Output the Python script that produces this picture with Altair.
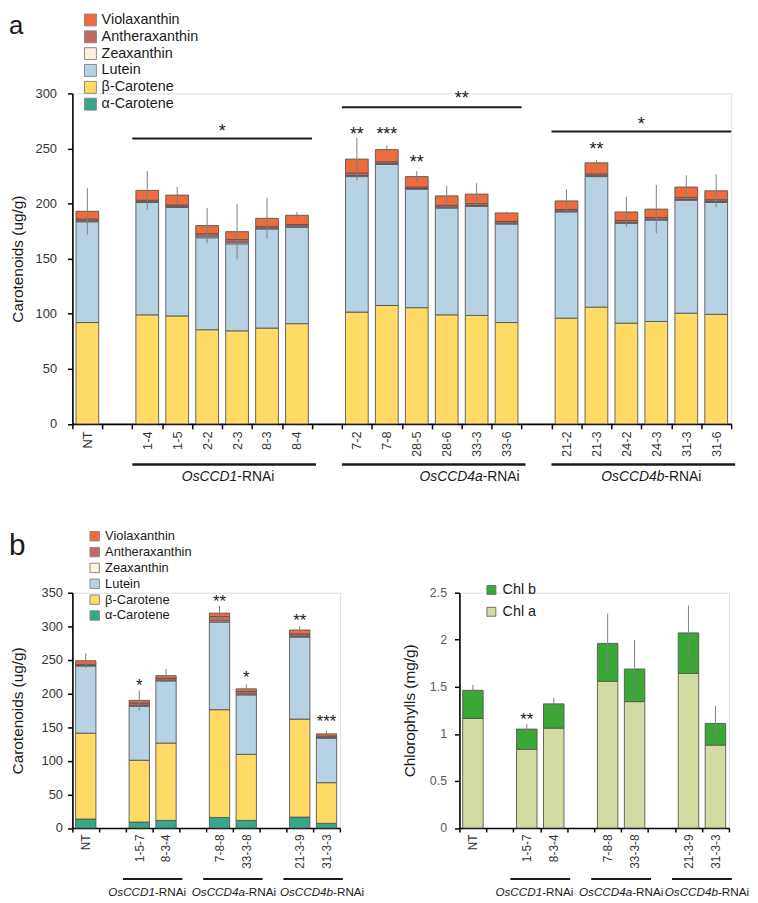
import altair as alt
import pandas as pd

FONT = "Liberation Sans"

# ---------------- panel a data ----------------
a_lines = ["NT", "1-4", "1-5", "2-2", "2-3", "8-3", "8-4", "7-2", "7-8", "28-5", "28-6",
           "33-3", "33-6", "21-2", "21-3", "24-2", "24-3", "31-3", "31-6"]
a_slots = ["NT", " ", "1-4", "1-5", "2-2", "2-3", "8-3", "8-4", "  ", "7-2", "7-8", "28-5",
           "28-6", "33-3", "33-6", "   ", "21-2", "21-3", "24-2", "24-3", "31-3", "31-6"]
a_beta = [92, 99, 98, 85.5, 84.5, 87, 91, 101.5, 107.5, 105.5, 99, 98.5, 92, 96, 106, 91.5, 93, 100.5, 99.5]
a_lutein = [91.5, 102, 98.5, 83.5, 79, 90, 87.5, 123, 128, 107.5, 97, 99, 89.5, 96.5, 118.5, 90.5, 92, 102.5, 101.5]
a_zea = [0.8, 0.7, 0.7, 1.5, 1.5, 0.7, 1.0, 1.0, 0.8, 0.7, 0.8, 0.8, 0.8, 0.7, 0.8, 0.9, 0.8, 0.8, 0.8]
a_anth = [1.7, 1.3, 1.5, 2.2, 2.3, 1.4, 1.5, 2.3, 1.7, 1.3, 1.6, 1.7, 1.5, 1.4, 1.7, 1.8, 1.6, 1.8, 1.7]
a_viola = [7, 9, 9, 7.3, 7.2, 7.5, 8.4, 12.6, 11, 9.5, 8.6, 8.6, 7.7, 7.8, 10, 7.7, 7.6, 9.4, 8.1]
a_err = [21, 17.5, 7.5, 16, 25, 18.5, 3, 19.5, 4, 5, 9, 10, 1.2, 10.5, 2.5, 13.7, 22, 10.7, 14.7]
a_star_lines = ["7-2", "7-8", "28-5", "21-3"]
a_star_text = ["**", "***", "**", "**"]
a_star_y = [257.5, 257.5, 232, 244]
a_grp_start = ["1-4", "7-2", "21-2"]
a_grp_end = ["8-4", "33-6", "31-6"]
a_grp_mid = ["2-3", "33-3", "24-3"]
a_grp_line_y = [259, 287.5, 265.5]
a_grp_star = ["*", "**", "*"]
a_grp_star_y = [260.5, 290.5, 267]
grp_italic = ["OsCCD1", "OsCCD4a", "OsCCD4b"]
grp_normal = "-RNAi"

# ---------------- panel b data ----------------
b_lines = ["NT", "1-5-7", "8-3-4", "7-8-8", "33-3-8", "21-3-9", "31-3-3"]
b_slots = ["NT", " ", "1-5-7", "8-3-4", "  ", "7-8-8", "33-3-8", "   ", "21-3-9", "31-3-3"]
b_alpha = [13.3, 8.8, 11.3, 15.7, 11.3, 16.2, 7]
b_beta = [127.7, 92, 115.1, 160.3, 98.3, 145.8, 60.4]
b_lutein = [100, 80.2, 92.4, 130.3, 88.4, 122, 66.3]
b_zea = [1.0, 1.5, 1.2, 1.8, 1.5, 1.2, 0.8]
b_anth = [1.4, 3.5, 2.7, 6.5, 3.5, 3.4, 2.2]
b_viola = [5.4, 3.8, 3.9, 5, 4, 5.9, 3.3]
b_err = [11, 15, 10, 11, 7, 5.7, 4.7]
b_star_lines = ["1-5-7", "7-8-8", "33-3-8", "21-3-9", "31-3-3"]
b_star_text = ["*", "**", "*", "**", "***"]
b_star_y = [203.5, 328.8, 216.3, 300.8, 150]
b_grp_start = ["1-5-7", "7-8-8", "21-3-9"]
b_grp_end = ["8-3-4", "33-3-8", "31-3-3"]
b_grp_mid = ["8-3-4", "33-3-8", "31-3-3"]

c_chla = [1.164, 0.836, 1.061, 1.559, 1.343, 1.643, 0.881]
c_chlb = [0.299, 0.215, 0.258, 0.402, 0.346, 0.43, 0.23]
c_err = [0.058, 0.055, 0.065, 0.317, 0.31, 0.29, 0.19]
c_star_lines = ["1-5-7"]
c_star_text = ["**"]
c_star_y = [1.096]

pig_names = ["Violaxanthin", "Antheraxanthin", "Zeaxanthin", "Lutein", "β-Carotene", "α-Carotene"]
pig_colors = ["#EE6B3B", "#C46767", "#FDF0DE", "#B7D3E3", "#FFDA65", "#35A78A"]
pig_stack = {"α-Carotene": 0, "β-Carotene": 1, "Lutein": 2, "Zeaxanthin": 3, "Antheraxanthin": 4, "Violaxanthin": 5}
chl_names = ["Chl b", "Chl a"]
chl_colors = ["#3BA737", "#D1DCA2"]
chl_stack = {"Chl a": 0, "Chl b": 1}


def long_df(lines, series, stack):
    rows = []
    for name, vals in series:
        for lab, v in zip(lines, vals):
            rows.append({"label": lab, "pigment": name, "value": v, "ord": stack[name]})
    return pd.DataFrame(rows)


def err_df(lines, parts, err):
    tot = [sum(p) for p in zip(*parts)]
    return pd.DataFrame({"label": lines, "lo": [t - e for t, e in zip(tot, err)],
                         "hi": [t + e for t, e in zip(tot, err)]})


CW = {"O": .778, "s": .5, "C": .722, "D": .722, "1": .556, "4": .556, "a": .556, "b": .556,
      "-": .333, "R": .722, "N": .722, "A": .667, "i": .222}


def tw(s, size):
    return sum(CW.get(ch, .556) for ch in s) * size


def make_panel(slots, width, height, ydom, yvals, ytitle, ytitle_x, yfmt, ylab_size, ylab_color,
               ylab_pad, xlab_size, xlab_pad, xtick):
    xscale = alt.Scale(domain=slots, paddingInner=0, paddingOuter=0)
    xaxis = alt.Axis(title=None, labelAngle=-90, labelFontSize=xlab_size, labelColor="#333333",
                     labelPadding=xlab_pad, tickBand="extent", tickSize=xtick, tickColor="#000000",
                     tickWidth=1.5, domainColor="#000000", domainWidth=1.6, labelFont=FONT)
    yscale = alt.Scale(domain=ydom, nice=False, zero=True)
    yaxis = alt.Axis(values=yvals, format=yfmt, title=ytitle, titleX=ytitle_x, titleY=height / 2,
                     titleAngle=270, titleBaseline="bottom", titleAlign="center",
                     titleFontSize=15.5, titleFontWeight="normal", titleColor="#1a1a1a", titleFont=FONT,
                     labelFontSize=ylab_size, labelColor=ylab_color, labelPadding=ylab_pad, labelFont=FONT,
                     tickSize=5, tickColor="#000000", tickWidth=1.5, domainColor="#000000",
                     domainWidth=1.6, grid=False)

    def X(field, bp=None):
        if bp is None:
            return alt.X(f"{field}:N", scale=xscale, axis=xaxis)
        return alt.X(f"{field}:N", scale=xscale, axis=xaxis, bandPosition=bp)

    def Y(field, stack=None):
        if stack is None:
            return alt.Y(f"{field}:Q", scale=yscale, axis=yaxis)
        return alt.Y(f"{field}:Q", scale=yscale, axis=yaxis, stack=stack)

    return X, Y


def group_labels(X, mids, y, size, shifts):
    out = []
    for mid, ital, sh in zip(mids, grp_italic, shifts):
        wi, wn = tw(ital, size), tw(grp_normal, size)
        split = sh + wi - (wi + wn) / 2
        base = alt.Chart(alt.Data(values=[{"label": mid}]))
        out.append(base.mark_text(text=ital, fontStyle="italic", align="right", baseline="middle",
                                  dx=split, fontSize=size, font=FONT, color="#1a1a1a")
                   .encode(x=X("label", 0), y=alt.value(y)))
        out.append(base.mark_text(text=grp_normal, align="left", baseline="middle",
                                  dx=split, fontSize=size, font=FONT, color="#1a1a1a")
                   .encode(x=X("label", 0), y=alt.value(y)))
    return out


# ================= panel a =================
WA, HA = 665, 333.6
Xa, Ya = make_panel(a_slots, WA, HA, [0, 300], [0, 50, 100, 150, 200, 250, 300],
                    "Carotenoids (ug/g)", -47.5, "d", 13, "#333333", 11, 13, 2, 5)
df_a = long_df(a_lines, [("β-Carotene", a_beta), ("Lutein", a_lutein), ("Zeaxanthin", a_zea),
                         ("Antheraxanthin", a_anth), ("Violaxanthin", a_viola)], pig_stack)
er_a = err_df(a_lines, [a_beta, a_lutein, a_zea, a_anth, a_viola], a_err)

leg_a = alt.Legend(title=None, orient="none", legendX=11, legendY=-81.4, symbolType="square",
                   symbolSize=144, symbolStrokeColor="#8a8a8a", symbolStrokeWidth=1,
                   labelFontSize=14.5, labelFont=FONT, labelColor="#1a1a1a", rowPadding=0,
                   padding=0, labelOffset=4)

bars_a = alt.Chart(df_a).mark_bar(width=alt.RelativeBandSize(0.76), stroke="#555555",
                                  strokeWidth=0.9).encode(
    x=Xa("label"), y=Ya("value", "zero"),
    color=alt.Color("pigment:N", scale=alt.Scale(domain=pig_names, range=pig_colors), legend=leg_a),
    order=alt.Order("ord:Q", sort="ascending"))
errs_a = alt.Chart(er_a).mark_rule(color="#808080", strokeWidth=1).encode(
    x=Xa("label"), y=Ya("lo"), y2="hi:Q")
stars_a = alt.Chart(pd.DataFrame({"label": a_star_lines, "y": a_star_y, "t": a_star_text})).mark_text(
    fontSize=18, font=FONT, baseline="alphabetic", align="center", color="#1a1a1a").encode(
    x=Xa("label"), y=Ya("y"), text="t:N")
glines_a = alt.Chart(pd.DataFrame({"label": a_grp_start, "end": a_grp_end, "y": a_grp_line_y})).mark_rule(
    color="#1a1a1a", strokeWidth=2).encode(x=Xa("label", 0), x2=alt.X2("end:N", bandPosition=1), y=Ya("y"))
gstars_a = alt.Chart(pd.DataFrame({"label": a_grp_mid, "y": a_grp_star_y, "t": a_grp_star})).mark_text(
    fontSize=18, font=FONT, baseline="alphabetic", align="center", color="#1a1a1a").encode(
    x=Xa("label", 0), y=Ya("y"), text="t:N")
ulines_a = alt.Chart(pd.DataFrame({"label": a_grp_start, "end": a_grp_end})).mark_rule(
    color="#1a1a1a", strokeWidth=2.5, x2Offset=4).encode(
    x=Xa("label", 0), x2=alt.X2("end:N", bandPosition=1), y=alt.value(HA + 41))
glab_a = group_labels(Xa, a_grp_mid, HA + 54, 14, [6, 8, 10])
letter_a = alt.Chart(alt.Data(values=[{"k": 0}])).mark_text(
    text="a", fontSize=26, font=FONT, align="left", baseline="top", color="#1a1a1a").encode(
    x=alt.value(-64), y=alt.value(-81.4))
anchor = alt.Chart(alt.Data(values=[{"k": 0}])).mark_rule(opacity=0).encode(
    x=alt.value(-64), x2=alt.value(-64), y=alt.value(-81.4))

panel_a = alt.layer(bars_a, errs_a, stars_a, glines_a, gstars_a, ulines_a, *glab_a, letter_a,
                    anchor).properties(width=WA, height=HA)

# ================= panel b (carotenoids) =================
WB, HB = 270, 237.5
Xb, Yb = make_panel(b_slots, WB, HB, [0, 350], [0, 50, 100, 150, 200, 250, 300, 350],
                    "Carotenoids (ug/g)", -47.5, "d", 13, "#333333", 5, 12, 2, 4)
df_b = long_df(b_lines, [("α-Carotene", b_alpha), ("β-Carotene", b_beta), ("Lutein", b_lutein),
                         ("Zeaxanthin", b_zea), ("Antheraxanthin", b_anth), ("Violaxanthin", b_viola)],
               pig_stack)
er_b = err_df(b_lines, [b_alpha, b_beta, b_lutein, b_zea, b_anth, b_viola], b_err)
leg_b = alt.Legend(title=None, orient="none", legendX=16, legendY=-63.5, symbolType="square",
                   symbolSize=90, symbolStrokeColor="#8a8a8a", symbolStrokeWidth=1,
                   labelFontSize=13, labelFont=FONT, labelColor="#1a1a1a", rowPadding=1,
                   padding=0, labelOffset=4)
bars_b = alt.Chart(df_b).mark_bar(width=alt.RelativeBandSize(0.76), stroke="#555555",
                                  strokeWidth=0.9).encode(
    x=Xb("label"), y=Yb("value", "zero"),
    color=alt.Color("pigment:N", scale=alt.Scale(domain=pig_names, range=pig_colors), legend=leg_b),
    order=alt.Order("ord:Q", sort="ascending"))
errs_b = alt.Chart(er_b).mark_rule(color="#808080", strokeWidth=1).encode(
    x=Xb("label"), y=Yb("lo"), y2="hi:Q")
stars_b = alt.Chart(pd.DataFrame({"label": b_star_lines, "y": b_star_y, "t": b_star_text})).mark_text(
    fontSize=17, font=FONT, baseline="alphabetic", align="center", color="#1a1a1a").encode(
    x=Xb("label"), y=Yb("y"), text="t:N")
ulines_b = alt.Chart(pd.DataFrame({"label": b_grp_start, "end": b_grp_end})).mark_rule(
    color="#1a1a1a", strokeWidth=2, xOffset=-3, x2Offset=3).encode(
    x=Xb("label", 0), x2=alt.X2("end:N", bandPosition=1), y=alt.value(HB + 51.5))
glab_b = group_labels(Xb, b_grp_mid, HB + 64.5, 11.8, [-5.5, 1, 9])
letter_b = alt.Chart(alt.Data(values=[{"k": 0}])).mark_text(
    text="b", fontSize=30, font=FONT, align="left", baseline="alphabetic", color="#1a1a1a").encode(
    x=alt.value(-64), y=alt.value(-38))
panel_b = alt.layer(bars_b, errs_b, stars_b, ulines_b, *glab_b, letter_b).properties(width=WB, height=HB)

# ================= panel b (chlorophylls) =================
WC = 272
Xc, Yc = make_panel(b_slots, WC, HB, [0, 2.5], [0, 0.5, 1, 1.5, 2, 2.5],
                    "Chlorophylls (mg/g)", -42, "~g", 12.5, "#595959", 8, 12, 2, 4)
df_c = long_df(b_lines, [("Chl a", c_chla), ("Chl b", c_chlb)], chl_stack)
er_c = err_df(b_lines, [c_chla, c_chlb], c_err)
leg_c = alt.Legend(title=None, orient="none", legendX=25, legendY=-10, symbolType="square",
                   symbolSize=81, symbolStrokeColor="#707070", symbolStrokeWidth=1,
                   labelFontSize=14.5, labelFont=FONT, labelColor="#1a1a1a", rowPadding=7,
                   padding=0, labelOffset=4)
bars_c = alt.Chart(df_c).mark_bar(width=alt.RelativeBandSize(0.76), stroke="#555555",
                                  strokeWidth=0.9).encode(
    x=Xc("label"), y=Yc("value", "zero"),
    color=alt.Color("pigment:N", scale=alt.Scale(domain=chl_names, range=chl_colors), legend=leg_c),
    order=alt.Order("ord:Q", sort="ascending"))
errs_c = alt.Chart(er_c).mark_rule(color="#808080", strokeWidth=1).encode(
    x=Xc("label"), y=Yc("lo"), y2="hi:Q")
stars_c = alt.Chart(pd.DataFrame({"label": c_star_lines, "y": c_star_y, "t": c_star_text})).mark_text(
    fontSize=17, font=FONT, baseline="alphabetic", align="center", color="#1a1a1a").encode(
    x=Xc("label"), y=Yc("y"), text="t:N")
ulines_c = alt.Chart(pd.DataFrame({"label": b_grp_start, "end": b_grp_end})).mark_rule(
    color="#1a1a1a", strokeWidth=2, xOffset=-3, x2Offset=3).encode(
    x=Xc("label", 0), x2=alt.X2("end:N", bandPosition=1), y=alt.value(HB + 51.5))
glab_c = group_labels(Xc, b_grp_mid, HB + 64.5, 11.8, [-6, 0, 5])
panel_c = alt.layer(bars_c, errs_c, stars_c, ulines_c, *glab_c).properties(width=WC, height=HB)

row_b = alt.hconcat(panel_b, panel_c, spacing=120.7, bounds="flush").resolve_scale(color="independent")
chart = alt.vconcat(panel_a, row_b, spacing=170, bounds="flush").resolve_scale(
    color="independent").properties(padding=0).configure_view(stroke=None).configure(font=FONT)

chart.save("out.html", embed_options={"renderer": "svg", "actions": False})
